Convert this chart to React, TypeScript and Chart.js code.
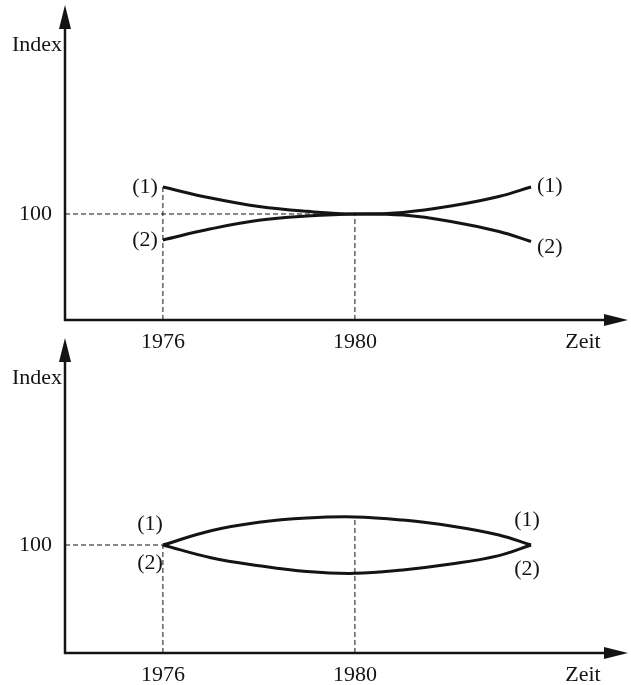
import React, { useEffect, useRef } from 'react';
import { Chart, registerables } from 'chart.js';

Chart.register(...registerables);

// ---- data ----
const years = [1976, 1977, 1978, 1979, 1980, 1981, 1982, 1983, 1983.67];
const topSeries1 = [105.1, 103.0, 101.4, 100.5, 100.0, 100.3, 101.5, 103.3, 105.1];
const topSeries2 = [95.1, 97.2, 98.8, 99.6, 100.0, 99.8, 98.6, 96.7, 94.8];
const bottomSeries1 = [100.0, 102.7, 104.3, 105.1, 105.3, 104.7, 103.6, 101.9, 100.0];
const bottomSeries2 = [100.0, 97.6, 96.1, 95.0, 94.65, 95.3, 96.4, 98.0, 100.0];
const xTickValues = [1976, 1980];
const yTickValues = [100];
const indexLevel = 100;
const yAxisTitle = 'Index';
const xAxisTitle = 'Zeit';
const seriesNames = ['(1)', '(2)'];

const FONT = '"Liberation Serif", "Times New Roman", serif';
const INK = '#141414';
const X_MIN = 1973.96;
const X_MAX = 1985.69;
const FS = 22;

type LabelOffsets = {
  startDx: number; start1Dy: number; start2Dy: number; startAlign: CanvasTextAlign;
  endDx: number; end1Dy: number; end2Dy: number; endAlign: CanvasTextAlign;
};

type PanelProps = {
  s1: number[];
  s2: number[];
  guides: { x: number; y: number }[][];
  yMin: number;
  yMax: number;
  top: number;
  height: number;
  padTop: number;
  axisH: number;
  offsets: LabelOffsets;
};

function Panel(p: PanelProps) {
  const ref = useRef<HTMLCanvasElement | null>(null);
  useEffect(() => {
    if (!ref.current) return;
    const decor = {
      id: 'decor',
      afterDatasetsDraw(chart: any) {
        const { ctx, chartArea: a, scales } = chart;
        const x = scales.x, y = scales.y;
        ctx.save();
        ctx.strokeStyle = INK;
        ctx.fillStyle = INK;
        ctx.lineWidth = 2.5;
        // y axis with arrow
        ctx.beginPath();
        ctx.moveTo(a.left, a.bottom + 1);
        ctx.lineTo(a.left, a.top + 18);
        ctx.stroke();
        ctx.beginPath();
        ctx.moveTo(a.left, a.top);
        ctx.lineTo(a.left - 6, a.top + 24);
        ctx.lineTo(a.left + 6, a.top + 24);
        ctx.closePath();
        ctx.fill();
        // x axis with arrow
        ctx.beginPath();
        ctx.moveTo(a.left - 1, a.bottom);
        ctx.lineTo(a.right - 18, a.bottom);
        ctx.stroke();
        ctx.beginPath();
        ctx.moveTo(a.right, a.bottom);
        ctx.lineTo(a.right - 24, a.bottom - 6);
        ctx.lineTo(a.right - 24, a.bottom + 6);
        ctx.closePath();
        ctx.fill();
        // axis titles
        ctx.font = `${FS}px ${FONT}`;
        ctx.textBaseline = 'middle';
        ctx.textAlign = 'right';
        ctx.fillText(yAxisTitle, a.left - 3, a.top + 40);
        ctx.textAlign = 'center';
        ctx.fillText(xAxisTitle, a.right - 45, a.bottom + 22);
        // series labels
        const o = p.offsets;
        const n = years.length - 1;
        const sx = x.getPixelForValue(years[0]);
        const ex = x.getPixelForValue(years[n]);
        ctx.textAlign = o.startAlign;
        ctx.fillText(seriesNames[0], sx + o.startDx, y.getPixelForValue(p.s1[0]) + o.start1Dy);
        ctx.fillText(seriesNames[1], sx + o.startDx, y.getPixelForValue(p.s2[0]) + o.start2Dy);
        ctx.textAlign = o.endAlign;
        ctx.fillText(seriesNames[0], ex + o.endDx, y.getPixelForValue(p.s1[n]) + o.end1Dy);
        ctx.fillText(seriesNames[1], ex + o.endDx, y.getPixelForValue(p.s2[n]) + o.end2Dy);
        ctx.restore();
      },
    };

    const curve = (vals: number[]) => ({
      data: years.map((yr, i) => ({ x: yr, y: vals[i] })),
      borderColor: INK,
      borderWidth: 3,
      pointRadius: 0,
      tension: 0.4,
      fill: false,
    });
    const guide = (pts: { x: number; y: number }[]) => ({
      data: pts,
      borderColor: INK,
      borderWidth: 1,
      borderDash: [5, 3],
      pointRadius: 0,
      tension: 0,
      fill: false,
    });
    const noPad = (s: any) => {
      s.paddingTop = 0;
      s.paddingBottom = 0;
      s.paddingLeft = 0;
      s.paddingRight = 0;
    };

    const chart = new Chart(ref.current, {
      type: 'line',
      data: {
        datasets: [curve(p.s1), curve(p.s2), ...p.guides.map(guide)] as any,
      },
      plugins: [decor],
      options: {
        animation: false,
        responsive: false,
        devicePixelRatio: 1,
        layout: { padding: { top: p.padTop, right: 3, left: 0, bottom: 0 } },
        plugins: { legend: { display: false }, tooltip: { enabled: false } },
        scales: {
          x: {
            type: 'linear',
            min: X_MIN,
            max: X_MAX,
            grid: { display: false, drawTicks: false },
            border: { display: false },
            afterBuildTicks: (s: any) => { s.ticks = xTickValues.map((v) => ({ value: v })); },
            afterFit: (s: any) => { s.height = p.axisH; noPad(s); },
            ticks: {
              padding: 9,
              color: INK,
              font: { family: FONT, size: FS },
              maxRotation: 0,
              autoSkip: false,
              callback: (v: any) => String(v),
            },
          },
          y: {
            type: 'linear',
            min: p.yMin,
            max: p.yMax,
            grid: { display: false, drawTicks: false },
            border: { display: false },
            afterBuildTicks: (s: any) => { s.ticks = yTickValues.map((v) => ({ value: v })); },
            afterFit: (s: any) => { s.width = 65; noPad(s); },
            ticks: {
              padding: 13,
              color: INK,
              font: { family: FONT, size: FS },
              autoSkip: false,
              callback: (v: any) => String(v),
            },
          },
        },
      } as any,
    });
    return () => chart.destroy();
  }, []);
  return (
    <canvas
      ref={ref}
      width={631}
      height={p.height}
      style={{ position: 'absolute', left: 0, top: p.top, width: 631, height: p.height }}
    />
  );
}

export default function App() {
  const topMin = 80, topMax = 139.43;
  const botMin = 79.62, botMax = 139.06;
  const topGuides = [
    [{ x: X_MIN, y: indexLevel }, { x: xTickValues[1], y: indexLevel }],
    [{ x: xTickValues[0], y: topMin }, { x: xTickValues[0], y: topSeries1[0] }],
    [{ x: xTickValues[1], y: topMin }, { x: xTickValues[1], y: indexLevel }],
  ];
  const botGuides = [
    [{ x: X_MIN, y: indexLevel }, { x: xTickValues[0], y: indexLevel }],
    [{ x: xTickValues[0], y: botMin }, { x: xTickValues[0], y: indexLevel }],
    [{ x: xTickValues[1], y: botMin }, { x: xTickValues[1], y: bottomSeries1[4] }],
  ];
  return (
    <div style={{ position: 'absolute', left: 0, top: 0, width: 631, height: 685, background: '#fff' }}>
      <Panel
        s1={topSeries1}
        s2={topSeries2}
        guides={topGuides}
        yMin={topMin}
        yMax={topMax}
        top={0}
        height={350}
        padTop={5}
        axisH={30}
        offsets={{ startDx: -5, start1Dy: 0, start2Dy: 0, startAlign: 'right', endDx: 6, end1Dy: -1, end2Dy: 6, endAlign: 'left' }}
      />
      <Panel
        s1={bottomSeries1}
        s2={bottomSeries2}
        guides={botGuides}
        yMin={botMin}
        yMax={botMax}
        top={332}
        height={353}
        padTop={6}
        axisH={32}
        offsets={{ startDx: 0, start1Dy: -21, start2Dy: 18, startAlign: 'right', endDx: -4, end1Dy: -25, end2Dy: 24, endAlign: 'center' }}
      />
    </div>
  );
}
